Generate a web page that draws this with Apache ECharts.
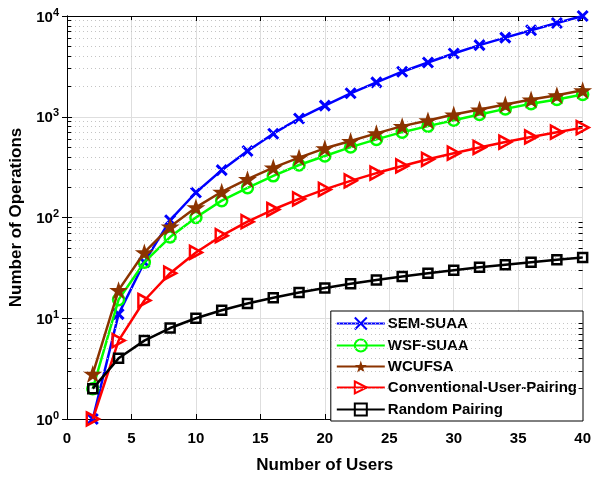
<!DOCTYPE html>
<html><head><meta charset="utf-8">
<script src="https://cdn.jsdelivr.net/npm/echarts@6/dist/echarts.min.js"></script>
<style>html,body{margin:0;padding:0;background:#fff}#c{width:594px;height:479px}</style>
</head><body><div id="c"></div>
<script>
var users = [2,4,6,8,10,12,14,16,18,20,22,24,26,28,30,32,34,36,38,40];
var semSuaa = [1,11,36,94,177,295,457,679,961,1291,1709,2193,2799,3459,4246,5136,6106,7227,8530,10000];
var wsfSuaa = [2,15.3,36,64,100,147,197,259,332,408,500,596,703,807,925,1052,1197,1343,1481,1660];
var wcufsa = [2.8,19,45,81,126,180,240,313,393,486,574,684,807,918,1052,1180,1322,1481,1633,1829];
var conventional = [1,6,15,28,45,66,91,120,153,190,231,276,325,378,435,496,561,630,703,780];
var randomPairing = [2,4,6,8,10,12,14,16,18,20,22,24,26,28,30,32,34,36,38,40];
var seriesNames = ['SEM-SUAA','WSF-SUAA','WCUFSA','Conventional-User-Pairing','Random Pairing'];
var xTicks = [0,5,10,15,20,25,30,35,40];
var yDecades = [1,10,100,1000,10000];
var yMinor = [2,3,4,5,6,7,8,9,20,30,40,50,60,70,80,90,200,300,400,500,600,700,800,900,2000,3000,4000,5000,6000,7000,8000,9000];

function pairs(ys){ return users.map(function(x,i){ return [x, ys[i]]; }); }
var FONT = '"Liberation Sans", Arial, sans-serif';
var STAR = 'path://M0,-10 L2.25,-3.09 L9.51,-3.09 L3.63,1.18 L5.88,8.09 L0,3.82 L-5.88,8.09 L-3.63,1.18 L-9.51,-3.09 L-2.25,-3.09 Z';
var CROSS = 'path://M0,0 L10,10 M10,0 L0,10';
var TRI = 'path://M0,0 L10,5 L0,10 Z';
var SQ = 'path://M0,0 L10,0 L10,10 L0,10 Z';

var minorGrid = yMinor.map(function(v){ return {yAxis: v}; });
var tickLen = 0.32;
var minorTicks = [];
yMinor.forEach(function(v){
  minorTicks.push([{coord:[0,v]},{coord:[tickLen,v]}]);
  minorTicks.push([{coord:[40-tickLen,v]},{coord:[40,v]}]);
});

var chart = echarts.init(document.getElementById('c'), null, {renderer:'canvas'});
chart.setOption({
  animation: false,
  backgroundColor: '#fff',
  grid: {left: 67, right: 11, top: 16, bottom: 58, show: false},
  legend: {
    data: seriesNames,
    orient: 'vertical',
    right: 11, bottom: 58,
    backgroundColor: '#fff',
    borderColor: '#000', borderWidth: 1, borderRadius: 0,
    padding: [4, 6, 3, 5],
    itemGap: 5,
    itemWidth: 48, itemHeight: 15,
    textStyle: {fontFamily: FONT, fontWeight: 'bold', fontSize: 15, color: '#000', padding: [0,0,0,-2]}
  },
  xAxis: [{
    type: 'value', min: 0, max: 40, interval: 5,
    name: 'Number of Users', nameLocation: 'middle', nameGap: 38,
    nameTextStyle: {fontFamily: FONT, fontWeight: 'bold', fontSize: 17, color: '#000'},
    axisLine: {show: true, lineStyle: {color: '#000', width: 1}},
    axisTick: {show: true, inside: true, length: 5, lineStyle: {color: '#000'}},
    axisLabel: {fontFamily: FONT, fontWeight: 'bold', fontSize: 15, color: '#000', margin: 12},
    splitLine: {show: true, lineStyle: {color: '#dedede', width: 1}}
  },{
    type: 'value', min: 0, max: 40, interval: 5, position: 'top',
    axisLine: {show: true, lineStyle: {color: '#000', width: 1}},
    axisTick: {show: true, inside: true, length: 5, lineStyle: {color: '#000'}},
    axisLabel: {show: false}, splitLine: {show: false}
  }],
  yAxis: [{
    type: 'log', logBase: 10, min: 1, max: 10000,
    name: 'Number of Operations', nameLocation: 'middle', nameGap: 33,
    nameTextStyle: {fontFamily: FONT, fontWeight: 'bold', fontSize: 17, color: '#000'},
    axisLine: {show: true, lineStyle: {color: '#000', width: 1}},
    axisTick: {show: true, inside: true, length: 5, lineStyle: {color: '#000'}},
    minorTick: {show: false},
    axisLabel: {
      margin: 8,
      formatter: function(v){ var e = Math.round(Math.log10(v)); return '{b|10}{s|' + e + '}'; },
      rich: {
        b: {fontFamily: FONT, fontWeight: 'bold', fontSize: 15, color: '#000', verticalAlign: 'bottom', lineHeight: 18},
        s: {fontFamily: FONT, fontWeight: 'bold', fontSize: 11, color: '#000', verticalAlign: 'top', lineHeight: 18, padding: [0,0,6,0]}
      }
    },
    splitLine: {show: true, lineStyle: {color: '#dedede', width: 1}}
  },{
    type: 'log', logBase: 10, min: 1, max: 10000, position: 'right',
    axisLine: {show: true, lineStyle: {color: '#000', width: 1}},
    axisTick: {show: true, inside: true, length: 5, lineStyle: {color: '#000'}},
    axisLabel: {show: false}, splitLine: {show: false}
  }],
  series: [
    {
      name: '_grid', type: 'line', data: [], z: 1, silent: true,
      markLine: {silent: true, symbol: ['none','none'], label: {show: false},
        lineStyle: {color: '#c4c4c4', width: 1, type: [1, 3]}, data: minorGrid}
    },
    {
      name: '_ticks', type: 'line', data: [], z: 1, silent: true,
      markLine: {silent: true, symbol: ['none','none'], label: {show: false},
        lineStyle: {color: '#000', width: 1, type: 'solid'}, data: minorTicks}
    },
    {
      name: seriesNames[0], type: 'line', data: pairs(semSuaa), z: 3,
      symbol: CROSS, symbolSize: 10, showAllSymbol: true,
      color: '#0000ff',
      lineStyle: {color: '#0000ff', width: 2.5},
      itemStyle: {color: 'none', borderColor: '#0000ff', borderWidth: 3}
    },
    {
      name: seriesNames[1], type: 'line', data: pairs(wsfSuaa), z: 4,
      symbol: 'circle', symbolSize: 11,
      color: '#00ff00',
      lineStyle: {color: '#00ff00', width: 2.5},
      itemStyle: {color: 'none', borderColor: '#00ff00', borderWidth: 2.5}
    },
    {
      name: seriesNames[2], type: 'line', data: pairs(wcufsa), z: 5,
      symbol: STAR, symbolSize: [19, 18],
      color: '#8b3300',
      lineStyle: {color: '#8b3300', width: 2.5},
      itemStyle: {color: '#8b3300', borderColor: '#8b3300', borderWidth: 0}
    },
    {
      name: seriesNames[3], type: 'line', data: pairs(conventional), z: 6,
      symbol: TRI, symbolSize: [12, 13],
      color: '#ff0000',
      lineStyle: {color: '#ff0000', width: 2.5},
      itemStyle: {color: 'none', borderColor: '#ff0000', borderWidth: 2.5}
    },
    {
      name: seriesNames[4], type: 'line', data: pairs(randomPairing), z: 7,
      symbol: SQ, symbolSize: 9,
      color: '#000000',
      lineStyle: {color: '#000000', width: 2.5},
      itemStyle: {color: 'none', borderColor: '#000000', borderWidth: 2.5}
    }
  ]
});
</script></body></html>
